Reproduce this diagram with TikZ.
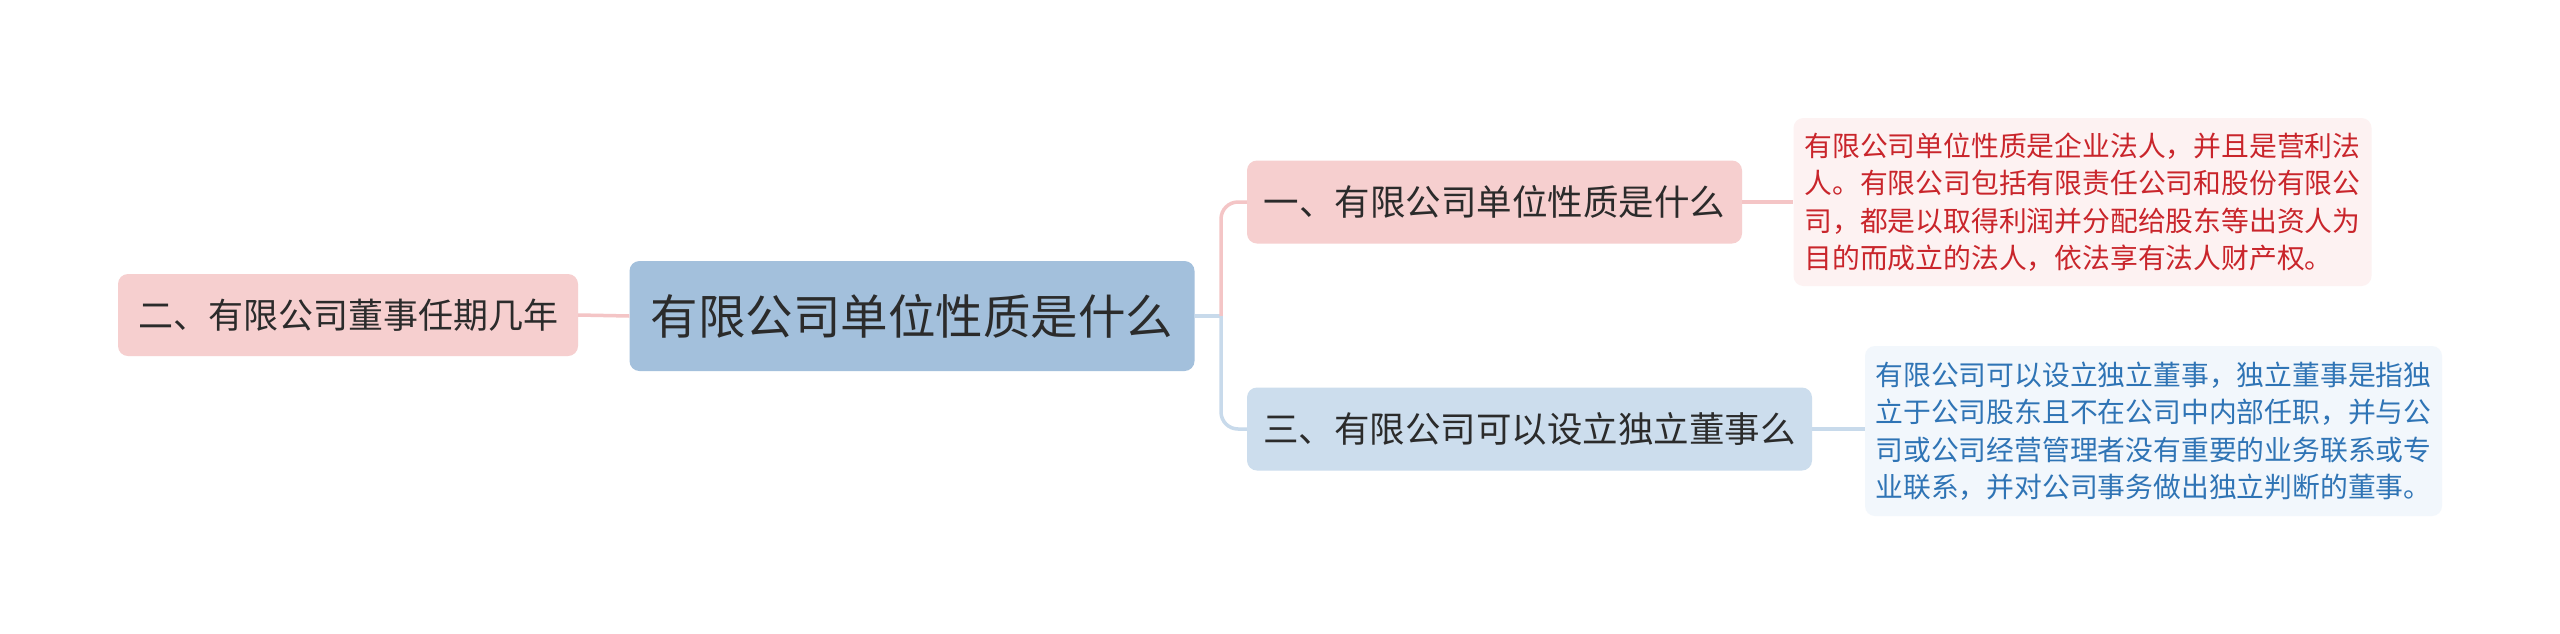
\documentclass[tikz,border=0pt]{standalone}
\usepackage{fontspec}
\setmainfont{Noto Sans CJK SC}
\definecolor{cblue}{HTML}{A3C0DC}
\definecolor{pinkbox}{HTML}{F6CFCF}
\definecolor{bluebox}{HTML}{CCDDED}
\definecolor{pinkleaf}{HTML}{FDF2F2}
\definecolor{blueleaf}{HTML}{F2F7FC}
\definecolor{redtext}{HTML}{C9252B}
\definecolor{bluetext}{HTML}{2F74B5}
\definecolor{pinkline}{HTML}{F4C5C6}
\definecolor{blueline}{HTML}{C8DAEB}
\definecolor{darktext}{HTML}{2B2B2B}
\tikzset{
  box/.style={rounded corners=10pt, inner sep=0pt, align=center, text=darktext},
  leaf/.style={rounded corners=10pt, inner sep=0pt, align=left, font=\fontsize{27.8pt}{37.5pt}\selectfont},
  conn/.style={line width=3.5pt, rounded corners=17pt}
}
\begin{document}
\begin{tikzpicture}[x=1pt,y=-1pt]
\useasboundingbox[fill=white] (0,0) rectangle (2560,633);
\node[box, fill=cblue, minimum width=565pt, minimum height=110pt, font=\fontsize{47.5pt}{57pt}\selectfont] (c) at (912,316) {有限公司单位性质是什么};
\node[box, fill=pinkbox, minimum width=460pt, minimum height=82pt, font=\fontsize{35pt}{42pt}\selectfont] (l) at (348,315) {二、有限公司董事任期几年};
\node[box, fill=pinkbox, minimum width=495pt, minimum height=83pt, font=\fontsize{35.5pt}{42pt}\selectfont] (t) at (1494.5,202) {一、有限公司单位性质是什么};
\node[box, fill=bluebox, minimum width=565pt, minimum height=83pt, font=\fontsize{35.5pt}{42pt}\selectfont] (b) at (1529.5,429) {三、有限公司可以设立独立董事么};
\node[leaf, fill=pinkleaf, text=redtext, minimum width=578pt, minimum height=168pt] (tr) at (2082.5,202) {有限公司单位性质是企业法人，并且是营利法\\人。有限公司包括有限责任公司和股份有限公\\司，都是以取得利润并分配给股东等出资人为\\目的而成立的法人，依法享有法人财产权。};
\node[leaf, fill=blueleaf, text=bluetext, minimum width=577pt, minimum height=170pt] (br) at (2153.5,431) {有限公司可以设立独立董事，独立董事是指独\\立于公司股东且不在公司中内部任职，并与公\\司或公司经营管理者没有重要的业务联系或专\\业联系，并对公司事务做出独立判断的董事。};
\coordinate (j) at (1221,316);
\draw[line width=3.5pt, pinkline] (l.east) -- (c.west);
\draw[line width=3.5pt, blueline] (c.east) -- (j);
\draw[conn, pinkline] (j) |- (t.west);
\draw[conn, blueline] (j) |- (b.west);
\draw[line width=3.5pt, pinkline] (t.east) -- (tr.west |- t.east);
\draw[line width=3.5pt, blueline] (b.east) -- (br.west |- b.east);
\end{tikzpicture}
\end{document}
